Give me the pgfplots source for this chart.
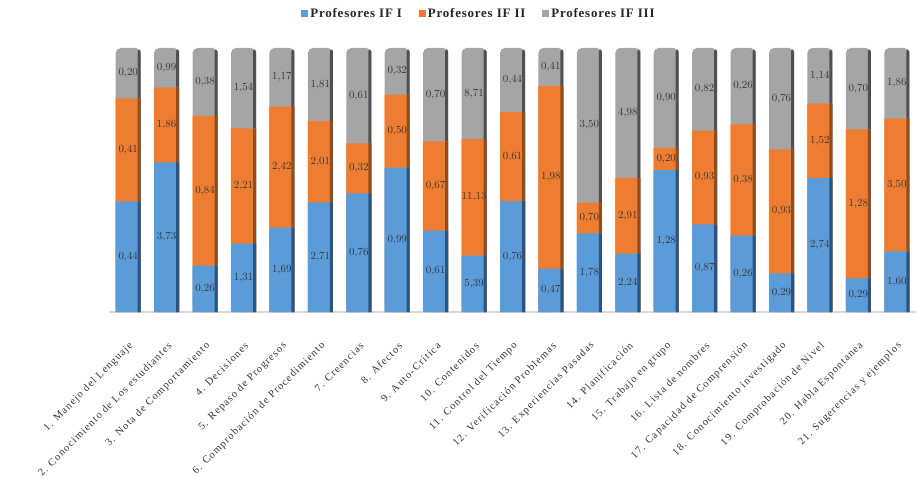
\documentclass[border=0pt]{standalone}
\usepackage{fontspec}
\setmainfont{Liberation Serif}
\newfontfamily\tickfont[LetterSpace=11]{Liberation Serif}
\newfontfamily\legfont[LetterSpace=6]{Liberation Serif}
\usepackage{pgfplots}
\pgfplotsset{compat=1.18}
\usepackage{pgfplotstable}
\usetikzlibrary{calc}

\definecolor{cblue}{HTML}{5A9BD8}
\definecolor{cblueD}{HTML}{24568C}
\definecolor{corange}{HTML}{EE7D31}
\definecolor{corangeD}{HTML}{9A4A14}
\definecolor{cgray}{HTML}{A5A5A5}
\definecolor{cgrayD}{HTML}{505050}

\pgfplotstableread{
x a b c
0 0.44 0.41 0.20
1 3.73 1.86 0.99
2 0.26 0.84 0.38
3 1.31 2.21 1.54
4 1.69 2.42 1.17
5 2.71 2.01 1.81
6 0.76 0.32 0.61
7 0.99 0.50 0.32
8 0.61 0.67 0.70
9 5.39 11.13 8.71
10 0.76 0.61 0.44
11 0.47 1.98 0.41
12 1.78 0.70 3.50
13 2.24 2.91 4.98
14 1.28 0.20 0.90
15 0.87 0.93 0.82
16 0.26 0.38 0.26
17 0.29 0.93 0.76
18 2.74 1.52 1.14
19 0.29 1.28 0.70
20 1.60 3.50 1.86
}\data
\pgfplotstablecreatecol[create col/expr={\thisrow{a}+\thisrow{b}+\thisrow{c}}]{s}{\data}

\pgfplotsset{
  cylbar/.style={ybar, bar width=25bp, bar shift=0pt, draw=none, fill=#1,
    legend image code/.code={\fill[##1, sharp corners] (0bp,-3.5bp) rectangle (7bp,3.5bp);}},
  edgebar/.style={ybar, bar width=3bp, bar shift=11bp, draw=none, fill=#1, forget plot},
  seglabel/.style={draw=none, mark=none, forget plot,
    nodes near coords={\pgfmathprintnumber[fixed,fixed zerofill,precision=2,use comma]{\pgfplotspointmeta}},
    every node near coord/.append style={anchor=center, font=\bfseries\fontsize{11}{12}\selectfont, text=black!78, inner sep=0.5pt}},
}

\begin{document}
\begin{tikzpicture}
\begin{axis}[
  scale only axis, width=807bp, height=264bp,
  xmin=-0.5, xmax=20.5, ymin=0, ymax=100,
  clip=false,
  axis x line*=bottom, axis y line=none,
  x axis line style={draw=gray!30, line width=1.6bp},
  xtick={0,...,20}, major tick length=0pt,
  xticklabels={1. Manejo del Lenguaje, 2. Conocimiento de Los estudiantes, 3. Nota de Comportamiento, 4. Decisiones, 5. Repaso de Progresos, 6. Comprobación de Procedimiento, 7. Creencias, 8. Afectos, 9. Auto-Crítica, 10. Contenidos, 11. Control del Tiempo, 12. Verificación Problemas, 13. Experiencias Pasadas, 14. Planificación, 15. Trabajo en grupo, 16. Lista de nombres, 17. Capacidad de Comprensión, 18. Conocimiento investigado, 19. Comprobación de Nivel, 20. Habla Espontanea, 21. Sugerencias y ejemplos},
  xticklabel style={rotate=45, anchor=east, xshift=-17bp, yshift=-25bp, font=\tickfont\fontsize{10.5}{12}\selectfont, text=black!80},
  legend columns=3, reverse legend,
  legend style={at={(0.4585,1.129)}, anchor=center, draw=none, fill=none,
    font=\legfont\bfseries\fontsize{13}{14}\selectfont, text=black!85,
    /tikz/every even column/.append style={column sep=15bp},
    /tikz/every odd column/.append style={column sep=0bp}},
]
\addplot[cylbar=cgray, rounded corners=5bp] table[x=x, y expr={100*(\thisrow{a}+\thisrow{b}+\thisrow{c})/\thisrow{s}}]{\data};
\addlegendentry{Profesores IF III}
\addplot[edgebar=cgrayD, rounded corners=1.5bp] table[x=x, y expr={100*(\thisrow{a}+\thisrow{b}+\thisrow{c})/\thisrow{s}-0.6}]{\data};
\addplot[cylbar=corange] table[x=x, y expr={100*(\thisrow{a}+\thisrow{b})/\thisrow{s}}]{\data};
\addlegendentry{Profesores IF II}
\addplot[edgebar=corangeD] table[x=x, y expr={100*(\thisrow{a}+\thisrow{b})/\thisrow{s}}]{\data};
\addplot[cylbar=cblue] table[x=x, y expr={100*\thisrow{a}/\thisrow{s}}]{\data};
\addlegendentry{Profesores IF I}
\addplot[edgebar=cblueD] table[x=x, y expr={100*\thisrow{a}/\thisrow{s}}]{\data};

\addplot[seglabel, point meta=\thisrow{a}] table[x=x, y expr={50*\thisrow{a}/\thisrow{s}}]{\data};
\addplot[seglabel, point meta=\thisrow{b}] table[x=x, y expr={100*(\thisrow{a}+0.5*\thisrow{b})/\thisrow{s}}]{\data};
\addplot[seglabel, point meta=\thisrow{c}] table[x=x, y expr={100*(\thisrow{a}+\thisrow{b}+0.5*\thisrow{c})/\thisrow{s}}]{\data};
\end{axis}
\pgfresetboundingbox
\path ($(current axis.south west)+(-109bp,-165bp)$) rectangle ($(current axis.north east)+(0bp,48bp)$);
\end{tikzpicture}
\end{document}
